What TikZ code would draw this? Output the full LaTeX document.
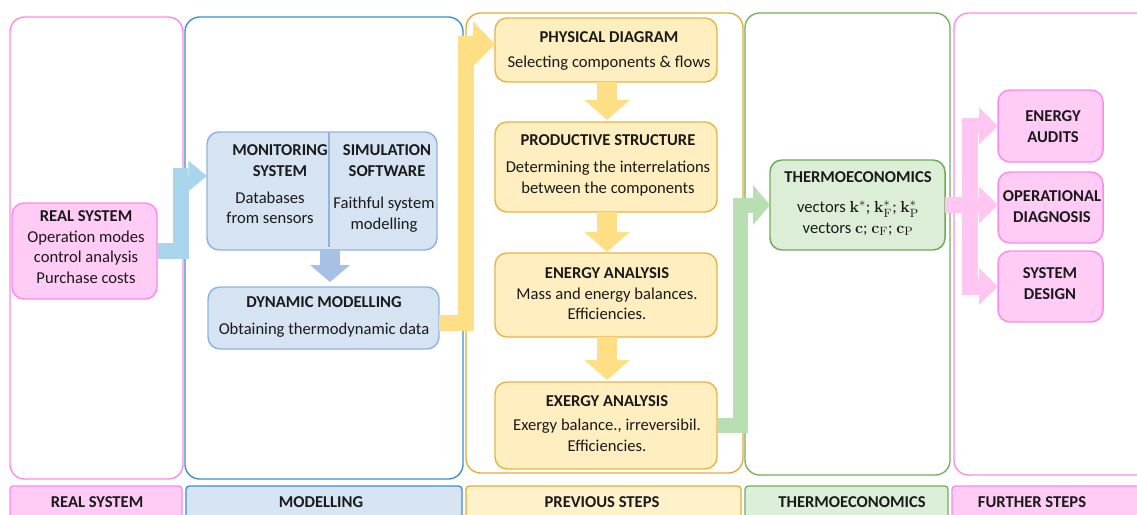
\documentclass[tikz,border=0pt]{standalone}
\usepackage[no-math]{fontspec}
\setmainfont{Carlito}
\usetikzlibrary{arrows.meta,calc}
\definecolor{pinkline}{HTML}{FF88E8}
\definecolor{pinkfill}{HTML}{FFCCF5}
\definecolor{pinkarrow}{HTML}{FFC6F1}
\definecolor{blueline}{HTML}{3B8FCF}
\definecolor{bluebox}{HTML}{D5E3F3}
\definecolor{blueboxline}{HTML}{8EB4DF}
\definecolor{bluelabel}{HTML}{D6E4F3}
\definecolor{bluearrowA}{HTML}{A9D6EC}
\definecolor{bluearrowB}{HTML}{A6C0E6}
\definecolor{yellowline}{HTML}{E4AC35}
\definecolor{yellowbox}{HTML}{FFEEC0}
\definecolor{yellowboxline}{HTML}{E9B544}
\definecolor{yellowlabel}{HTML}{FFF1CA}
\definecolor{yellowarrow}{HTML}{FFDF86}
\definecolor{greenline}{HTML}{72AF5E}
\definecolor{greenbox}{HTML}{DCEED7}
\definecolor{greenboxline}{HTML}{6DAA55}
\definecolor{greenlabel}{HTML}{DCEFD8}
\definecolor{greenarrow}{HTML}{B8DEB2}
\definecolor{ink}{HTML}{1A1A1A}
\begin{document}
\begin{tikzpicture}[x=0.75pt,y=-0.75pt,
  font=\fontsize{12.45pt}{15.45pt}\selectfont,
  panel/.style={line width=1pt, rounded corners=11pt},
  lab/.style={line width=1pt, rounded corners=2.5pt},
  box/.style={rounded corners=9pt, line width=1.1pt, inner sep=0pt, outer sep=0pt},
  pinkbox/.style={box, draw=pinkline, fill=pinkfill},
  bluebx/.style={box, draw=blueboxline, fill=bluebox},
  yelbox/.style={box, draw=yellowboxline, fill=yellowbox, minimum width=166.5pt},
  grnbox/.style={box, draw=greenboxline, fill=greenbox},
  txt/.style={inner sep=0pt, outer sep=0pt, align=center, anchor=north, text=ink},
  btxt/.style={txt, font=\fontsize{12.45pt}{15.45pt}\selectfont\bfseries},
  blockarrow/.style={line join=miter, line cap=butt},
]
\clip (0,0) rectangle (1137,514);
\fill[white] (0,0) rectangle (1137,514);

% panels
\draw[panel, pinkline] (10,17) rectangle (183,479);
\draw[panel, blueline] (185,17) rectangle (463,479);
\draw[panel, yellowline] (466,13) rectangle (743,473);
\draw[panel, greenline] (745,13) rectangle (950,475);
\draw[panel, pinkline] (954,13) rectangle (1160,475);

% bottom labels
\draw[lab, draw=pinkline, fill=pinkfill] (10,486) rectangle (182,530);
\draw[lab, draw=blueline, fill=bluelabel] (186,486) rectangle (462,530);
\draw[lab, draw=yellowline, fill=yellowlabel] (466,486) rectangle (741,530);
\draw[lab, draw=greenline, fill=greenlabel] (745,486) rectangle (948,530);
\draw[lab, draw=pinkline, fill=pinkfill] (952,486) rectangle (1160,530);

% boxes
\node[pinkbox, minimum width=108.75pt, minimum height=72pt] (rs) at (84.5,251) {};
\node[bluebx, minimum width=172.5pt, minimum height=88.5pt] (ms) at (322,191) {};
\node[bluebx, minimum width=173.25pt, minimum height=46.5pt] (dm) at (323.5,318) {};
\node[yelbox, minimum height=48pt] (pd) at (606,50) {};
\node[yelbox, minimum height=67.5pt] (ps) at (606,167) {};
\node[yelbox, minimum height=63pt] (ea) at (606,295) {};
\node[yelbox, minimum height=65.25pt] (ex) at (606,425.5) {};
\node[grnbox, minimum width=131.25pt, minimum height=67.5pt] (te) at (857.5,205) {};
\node[pinkbox, minimum width=78.75pt, minimum height=54pt] (au) at (1050.5,126) {};
\node[pinkbox, minimum width=78.75pt, minimum height=53.25pt] (od) at (1050.5,207.5) {};
\node[pinkbox, minimum width=78.75pt, minimum height=53.25pt] (sd) at (1050.5,286.5) {};

% divider in monitoring/simulation box
\draw[blueboxline, line width=0.8pt] ($(ms.north)+(7,0)$) -- ($(ms.south)+(7,-3)$);

% block arrows
\draw[blockarrow, bluearrowA, line width=12pt, -{Triangle[length=14pt,width=23pt,line width=0pt]}]
  (rs.east) -- ($(rs.east)+(24,0)$) |- ($(ms.west)+(0,-15)$);
\draw[blockarrow, bluearrowB, line width=15pt, -{Triangle[length=12.75pt,width=30pt,line width=0pt]}]
  ($(ms.south)+(8,0)$) -- ($(ms.south |- dm.north)+(8,-5)$);
\draw[blockarrow, yellowarrow, line width=12pt, -{Triangle[length=16.5pt,width=34pt,line width=0pt]}]
  ($(dm.east)+(0,5)$) -- ($(dm.east)+(26.5,5)$) |- ($(pd.west)+(0,-6)$);
\draw[blockarrow, yellowarrow, line width=15pt, -{Triangle[length=15pt,width=34pt,line width=0pt]}]
  ($(pd.south)+(1,0)$) -- ($(ps.north)+(1,-2)$);
\draw[blockarrow, yellowarrow, line width=15pt, -{Triangle[length=15pt,width=34pt,line width=0pt]}]
  ($(ps.south)+(1,0)$) -- ($(ea.north)+(1,-1)$);
\draw[blockarrow, yellowarrow, line width=15pt, -{Triangle[length=15pt,width=34pt,line width=0pt]}]
  ($(ea.south)+(1,0)$) -- ($(ex.north)+(1,-2)$);
\draw[blockarrow, greenarrow, line width=11.25pt, -{Triangle[length=12.75pt,width=30pt,line width=0pt]}]
  (ex.east) -- ($(ex.east)+(23,0)$) |- (te.west);
\draw[blockarrow, pinkarrow, line width=12pt, -{Triangle[length=14.25pt,width=27.75pt,line width=0pt]}]
  (te.east) -- ($(te.east)+(25,0)$) |- (au.west);
\draw[blockarrow, pinkarrow, line width=12pt, -{Triangle[length=14.25pt,width=27.75pt,line width=0pt]}]
  (te.east) -- (te.east -| od.west);
\draw[blockarrow, pinkarrow, line width=12pt, -{Triangle[length=14.25pt,width=27.75pt,line width=0pt]}]
  (te.east) -- ($(te.east)+(25,0)$) |- (sd.west);

% texts
\node[txt] (rs-t) at (86,210.7) {\textbf{REAL SYSTEM}\\Operation modes\\control analysis\\Purchase costs};
\node[btxt] (ms-t1) at (280,144.7) {MONITORING\\SYSTEM};
\node[txt] (ms-t2) at (270,191.7) {Databases\\from sensors};
\node[btxt] (ms-t3) at (387,144.7) {SIMULATION\\SOFTWARE};
\node[txt] (ms-t4) at (384,197.2) {Faithful system\\modelling};
\node[txt] (dm-t) at (324,296.7) {\textbf{DYNAMIC MODELLING}\\[4.9pt]Obtaining thermodynamic data};
\node[txt] (pd-t) at (609,31.7) {\textbf{PHYSICAL DIAGRAM}\\[3.4pt]Selecting components \& flows};
\node[txt] (ps-t) at (608,134.7) {\textbf{PRODUCTIVE STRUCTURE}\\[4.9pt]Determining the interrelations\\between the components};
\node[txt] (ea-t) at (607,267.7) {\textbf{ENERGY ANALYSIS}\\Mass and energy balances.\\Efficiencies.};
\node[txt] (ex-t) at (607,395.7) {\textbf{EXERGY ANALYSIS}\\[2.6pt]Exergy balance., irreversibil.\\Efficiencies.};
\node[txt] (te-t) at (858,171.7) {\textbf{THERMOECONOMICS}\\[7.1pt]vectors $\mathbf{k}^{*}$; $\mathbf{k}^{*}_{\mathrm{F}}$; $\mathbf{k}^{*}_{\mathrm{P}}$\\vectors $\mathbf{c}$; $\mathbf{c}_{\mathrm{F}}$; $\mathbf{c}_{\mathrm{P}}$};
\node[btxt] (au-t) at (1053,110.7) {ENERGY\\AUDITS};
\node[btxt] (od-t) at (1052,190.7) {OPERATIONAL\\DIAGNOSIS};
\node[btxt] (sd-t) at (1050,267.7) {SYSTEM\\DESIGN};

% label texts
\node[btxt] (l1) at (97,496.7) {REAL SYSTEM};
\node[btxt] (l2) at (321,496.7) {MODELLING};
\node[btxt] (l3) at (602,496.7) {PREVIOUS STEPS};
\node[btxt] (l4) at (852,496.7) {THERMOECONOMICS};
\node[btxt] (l5) at (1032,496.7) {FURTHER STEPS};
\end{tikzpicture}
\end{document}
